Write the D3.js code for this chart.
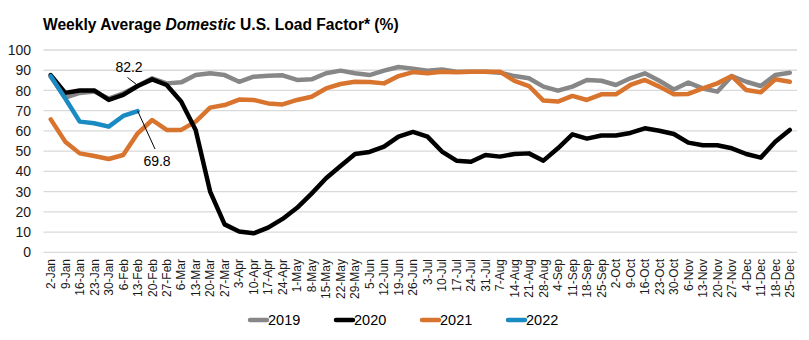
<!DOCTYPE html>
<html>
<head>
<meta charset="utf-8">
<script src="https://cdn.jsdelivr.net/npm/d3@7"></script>
<style>
  html, body { margin: 0; padding: 0; background: #fff; }
  svg { display: block; font-family: "Liberation Sans", Arial, sans-serif; }
</style>
</head>
<body>
<svg id="chart" width="809" height="340"></svg>
<script>
const weeks = ["2-Jan","9-Jan","16-Jan","23-Jan","30-Jan","6-Feb","13-Feb","20-Feb","27-Feb","6-Mar","13-Mar","20-Mar","27-Mar","3-Apr","10-Apr","17-Apr","24-Apr","1-May","8-May","15-May","22-May","29-May","5-Jun","12-Jun","19-Jun","26-Jun","3-Jul","10-Jul","17-Jul","24-Jul","31-Jul","7-Aug","14-Aug","21-Aug","28-Aug","4-Sep","11-Sep","18-Sep","25-Sep","2-Oct","9-Oct","16-Oct","23-Oct","30-Oct","6-Nov","13-Nov","20-Nov","27-Nov","4-Dec","11-Dec","18-Dec","25-Dec"];

const y2019 = [86.8,76.5,78.8,79.5,76,78.6,82.2,86,83.5,84,87.6,88.5,87.6,84.3,86.8,87.3,87.5,85.2,85.5,88.5,89.8,88.5,87.6,89.8,91.6,90.8,89.8,90.4,89.3,89.3,89.3,88.8,87.1,86,81.9,79.9,81.9,85.2,84.8,82.7,86,88.5,84.8,80.5,83.9,81,79.4,87.1,84.3,82.2,87.6,88.8];
const y2020 = [87.6,78.8,80,80,75.3,77.8,82.2,85.5,82.7,74.5,60.5,30,13.8,10.3,9.4,12.2,16.5,22,29,36.6,42.7,48.6,49.6,52.2,57.2,59.5,57.2,49.8,45.3,44.8,48.1,47.3,48.6,48.9,45.3,51.4,58.3,56.2,57.7,57.7,59,61.3,60.1,58.5,54.2,52.9,52.9,51.4,48.6,46.8,54.7,60.5];
const y2021 = [65.7,54.7,48.9,47.6,46.1,48.1,58.8,65.4,60.5,60.5,64.6,71.5,72.8,75.5,75.3,73.6,73.1,75.3,76.9,81,83.2,84.3,84.2,83.5,87.1,89.1,88.5,89.3,89,89.3,89.3,89.3,84.7,82.2,75,74.5,77.3,75.3,78.1,78.1,82.7,85.2,81.9,78.1,78.3,81,83.5,87.1,80.2,79.1,85.5,84.3];
const y2022 = [87.1,76,64.6,63.8,62.1,67.4,69.8];

const yTicks = [0,10,20,30,40,50,60,70,80,90,100];
const seriesNames = ["2019","2020","2021","2022"];
const seriesColors = ["#878787","#000000","#d8742e","#1a8ac3"];
const seriesValues = [y2019, y2020, y2021, y2022];
// drawing order: 2019, 2021, 2020, 2022
const drawOrder = [0, 2, 1, 3];

const annotations = [
  { label: "82.2", week: "13-Feb", value: 82.2, tx: 129, ty: 71.5, lx: 127.5, ly: 77.5, ex: -1.5, ey: -1.8 },
  { label: "69.8", week: "13-Feb", value: 69.8, tx: 157, ty: 166, lx: 155, ly: 149, ex: 0, ey: 0 }
];

const svg = d3.select("#chart");

const x = d3.scaleBand().domain(weeks).range([43.5, 797]).paddingInner(0).paddingOuter(0);
const y = d3.scaleLinear().domain([0, 100]).range([252.3, 50]);
const cx = d => x(d) + x.bandwidth() / 2;

// title
const title = svg.append("text")
  .attr("x", 43).attr("y", 29.5)
  .attr("font-size", 15.6).attr("font-weight", "bold").attr("fill", "#000");
title.append("tspan").text("Weekly Average ");
title.append("tspan").attr("font-style", "italic").text("Domestic");
title.append("tspan").text(" U.S. Load Factor* (%)");

// gridlines
svg.append("g").selectAll("line").data(yTicks).join("line")
  .attr("x1", 43.5).attr("x2", 797)
  .attr("y1", d => y(d)).attr("y2", d => y(d))
  .attr("stroke", "#d9d9d9").attr("stroke-width", 1.3);

// y axis labels
svg.append("g").selectAll("text").data(yTicks).join("text")
  .attr("x", 31).attr("y", d => y(d)).attr("dy", "0.36em")
  .attr("text-anchor", "end").attr("font-size", 14).attr("fill", "#1a1a1a")
  .text(d => d);

// x axis labels
svg.append("g").selectAll("text").data(weeks).join("text")
  .attr("transform", d => `translate(${cx(d)},259) rotate(-90)`)
  .attr("dy", "0.36em")
  .attr("text-anchor", "end").attr("font-size", 12).attr("fill", "#1a1a1a")
  .text(d => d);

// lines
const line = d3.line().x((d, i) => cx(weeks[i])).y(d => y(d)).curve(d3.curveLinear);
const lg = svg.append("g");
drawOrder.forEach(k => {
  lg.append("path")
    .attr("d", line(seriesValues[k]))
    .attr("fill", "none")
    .attr("stroke", seriesColors[k])
    .attr("stroke-width", 4.5)
    .attr("stroke-linejoin", "round")
    .attr("stroke-linecap", "round");
});

// annotations
const ag = svg.append("g");
annotations.forEach(a => {
  ag.append("line")
    .attr("x1", a.lx).attr("y1", a.ly)
    .attr("x2", cx(a.week) + a.ex).attr("y2", y(a.value) + a.ey)
    .attr("stroke", "#000").attr("stroke-width", 1);
  ag.append("text")
    .attr("x", a.tx).attr("y", a.ty)
    .attr("text-anchor", "middle").attr("font-size", 14).attr("fill", "#000")
    .text(a.label);
});

// legend
const leg = svg.append("g").selectAll("g").data(seriesNames).join("g")
  .attr("transform", (d, i) => `translate(${248 + i * 86},320)`);
leg.append("line")
  .attr("x1", 2).attr("x2", 19).attr("y1", 0).attr("y2", 0)
  .attr("stroke", (d, i) => seriesColors[i]).attr("stroke-width", 4.5)
  .attr("stroke-linecap", "round");
leg.append("text")
  .attr("x", 20).attr("y", 0).attr("dy", "0.36em")
  .attr("font-size", 14.5).attr("fill", "#000")
  .text(d => d);
</script>
</body>
</html>
